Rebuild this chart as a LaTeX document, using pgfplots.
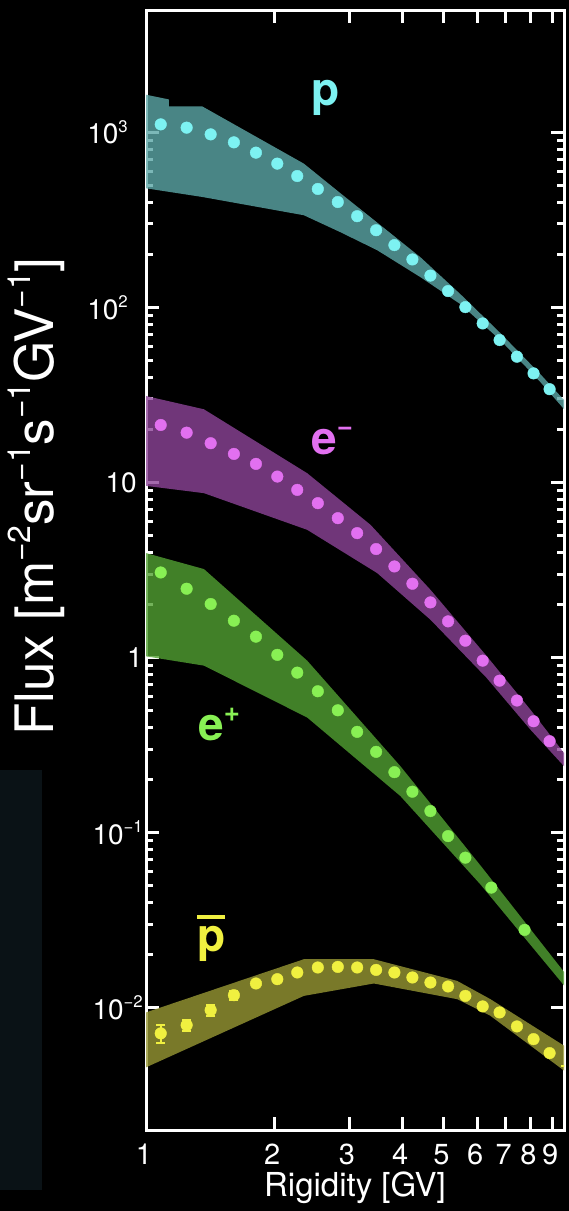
\documentclass[border=0pt]{standalone}
\usepackage{fontspec}
\setmainfont{TeX Gyre Heros}
\usepackage{graphicx}
\usepackage{pgfplots}
\pgfplotsset{compat=1.18}
\newcommand\sups[1]{\raisebox{0.42em}{\scalebox{0.6}{#1}}}
\newcommand\pbar{\setbox0\hbox{p}\vbox{\hrule height 4pt width \wd0 \kern 8pt \box0}}
\definecolor{pdot}{RGB}{125,242,242}
\definecolor{pband}{RGB}{92,167,167}
\definecolor{emdot}{RGB}{226,112,240}
\definecolor{emband}{RGB}{140,68,152}
\definecolor{epdot}{RGB}{136,240,84}
\definecolor{epband}{RGB}{82,160,50}
\definecolor{pbdot}{RGB}{240,240,64}
\definecolor{pbband}{RGB}{152,152,52}
\definecolor{darkpanel}{RGB}{10,18,22}
\begin{document}
\begin{tikzpicture}
\useasboundingbox (0,0) rectangle (569pt,1211pt);
\fill[black] (0,0) rectangle (569pt,1211pt);
\fill[darkpanel] (0,21pt) rectangle (42pt,441pt);
\begin{axis}[
  at={(146pt,81pt)}, anchor=south west,
  scale only axis, width=418pt, height=1120pt,
  xmode=log, ymode=log,
  xmin=1, xmax=9.6, ymin=2e-3, ymax=5e3,
  axis line style={white, line width=3pt},
  tick style={white, line width=3pt},
  major tick length=13pt, minor tick length=7pt,
  tick align=inside,
  xtick={1,2,3,4,5,6,7,8,9},
  xticklabels={1,2,3,4,5,6,7,8,9},
  ytick={0.01,0.1,1,10,100,1000},
  yticklabels={10\sups{−2},10\sups{−1},1,10\rule{6pt}{0pt},10\sups{2}\rule{15pt}{0pt},10\sups{3}\rule{15pt}{0pt}},
  ticklabel style={white},
  xticklabel style={font=\fontsize{29}{32}\selectfont, inner sep=0pt, yshift=-14pt, xshift=-2pt},
  yticklabel style={font=\fontsize{28}{32}\selectfont, inner sep=0pt, xshift=-3pt},
]
% bands
\addplot[fill=pband, fill opacity=0.8, draw=none] coordinates {
(1,1641) (1.132,1542) (1.132,1407) (1.356,1407) (2.349,663) (2.864,449) (3.556,295) (4.414,193.6) (5.479,119.1) (6.801,71.4) (8.445,41.6) (9.7,28.8)
(9.7,25.5) (8.445,37.5) (6.801,65.1) (5.479,104.4) (4.414,148.9) (3.493,212.3) (2.864,268.9) (2.349,336.2) (1.356,427.5) (1,479)} -- cycle;
\addplot[fill=emband, fill opacity=0.8, draw=none] coordinates {
(1,31.19) (1.368,26.19) (2.392,11.30) (3.370,5.73) (4.660,2.439) (6.307,1.025) (8.001,0.5044) (9.7,0.276)
(9.7,0.233) (8.001,0.388) (6.307,0.768) (4.660,1.645) (3.493,3.038) (2.392,5.365) (1.368,8.69) (1,9.563)} -- cycle;
\addplot[fill=epband, fill opacity=0.8, draw=none] coordinates {
(1,3.952) (1.368,3.202) (2.392,0.960) (3.962,0.2394) (6.106,0.0650) (9.7,0.0155)
(9.7,0.0130) (6.106,0.0506) (3.962,0.1616) (2.392,0.4543) (1.368,0.899) (1,1.016)} -- cycle;
\addplot[fill=pbband, fill opacity=0.8, draw=none] coordinates {
(1,0.00939) (2.349,0.01891) (3.430,0.01891) (5.383,0.01422) (6.446,0.01118) (9.7,0.00597)
(9.7,0.00429) (6.446,0.00898) (5.383,0.01118) (3.430,0.01374) (2.349,0.01167) (1,0.00456)} -- cycle;
% data points
\addplot[only marks, mark=*, mark size=5.8pt, color=pdot] coordinates {
(1.083,1111) (1.246,1064) (1.419,974) (1.609,877) (1.813,766) (2.035,663) (2.267,563) (2.534,475) (2.823,400) (3.135,332) (3.474,276)
(3.835,227) (4.227,188) (4.660,152) (5.127,124) (5.630,100.4) (6.183,81.0) (6.776,65.1) (7.443,52.3) (8.142,42.0) (8.880,34.1) (9.665,27.4)};
\addplot[only marks, mark=*, mark size=5.8pt, color=emdot] coordinates {
(1.083,21.3) (1.246,19.26) (1.419,16.76) (1.609,14.56) (1.813,12.77) (2.035,10.81) (2.267,9.073) (2.534,7.619) (2.823,6.255) (3.135,5.137) (3.474,4.165)
(3.835,3.313) (4.227,2.640) (4.660,2.065) (5.127,1.609) (5.630,1.248) (6.183,0.960) (6.776,0.738) (7.443,0.568) (8.142,0.4325) (8.880,0.3327) (9.665,0.2525)};
\addplot[only marks, mark=*, mark size=5.8pt, color=epdot] coordinates {
(1.083,3.062) (1.246,2.472) (1.419,2.022) (1.609,1.623) (1.813,1.316) (2.035,1.036) (2.267,0.820) (2.534,0.6416) (2.823,0.4995) (3.135,0.3763) (3.474,0.2893)
(3.835,0.2214) (4.227,0.1712) (4.660,0.1327) (5.127,0.0955) (5.630,0.0719) (6.479,0.0485) (7.757,0.0278)};
\addplot[only marks, mark=*, mark size=5.8pt, color=pbdot,
  error bars/.cd, y dir=both, y explicit, error mark=-,
  error bar style={line width=2pt, pbdot},
  error mark options={pbdot, line width=2pt, mark size=4.5pt, rotate=90}] coordinates {
(1.083,0.00713) +- (0,0.00085) (1.246,0.00795) +- (0,0.0006) (1.419,0.00968) +- (0,0.0007) (1.609,0.01178) +- (0,0.0007) (1.813,0.01374) +- (0,0)
(2.035,0.01454) +- (0,0) (2.267,0.01588) +- (0,0) (2.534,0.01696) +- (0,0) (2.823,0.01709) +- (0,0) (3.135,0.01696) +- (0,0) (3.474,0.01643) +- (0,0)
(3.835,0.01588) +- (0,0) (4.227,0.01487) +- (0,0) (4.660,0.01392) +- (0,0) (5.127,0.01321) +- (0,0) (5.630,0.01167) +- (0,0) (6.183,0.01016) +- (0,0)
(6.776,0.00939) +- (0,0) (7.443,0.00781) +- (0,0) (8.142,0.00661) +- (0,0) (8.880,0.00550) +- (0,0) (9.665,0.00466) +- (0,0)};
\end{axis}
% species labels
\node[anchor=base, text=pdot, font=\fontsize{46}{50}\selectfont\bfseries, inner sep=0pt] at (326pt,1105pt) {p};
\node[anchor=base west, text=emdot, font=\fontsize{46}{50}\selectfont\bfseries, inner sep=0pt] at (311pt,756pt) {e\sups{−}};
\node[anchor=base west, text=epdot, font=\fontsize{46}{50}\selectfont\bfseries, inner sep=0pt] at (198pt,470pt) {e\sups{+}};
\node[anchor=base west, text=pbdot, font=\fontsize{46}{50}\selectfont\bfseries, inner sep=0pt] at (197pt,259pt) {\pbar};
% axis titles
\node[rotate=90, anchor=base, text=white, font=\fontsize{53}{60}\selectfont, inner sep=0pt] at (53pt,714.5pt) {Flux [m\sups{−2}sr\sups{−1}s\sups{−1}GV\sups{−1}]};
\node[anchor=base, text=white, font=\fontsize{33}{36}\selectfont, inner sep=0pt] at (355pt,15pt) {Rigidity [GV]};
\end{tikzpicture}
\end{document}
